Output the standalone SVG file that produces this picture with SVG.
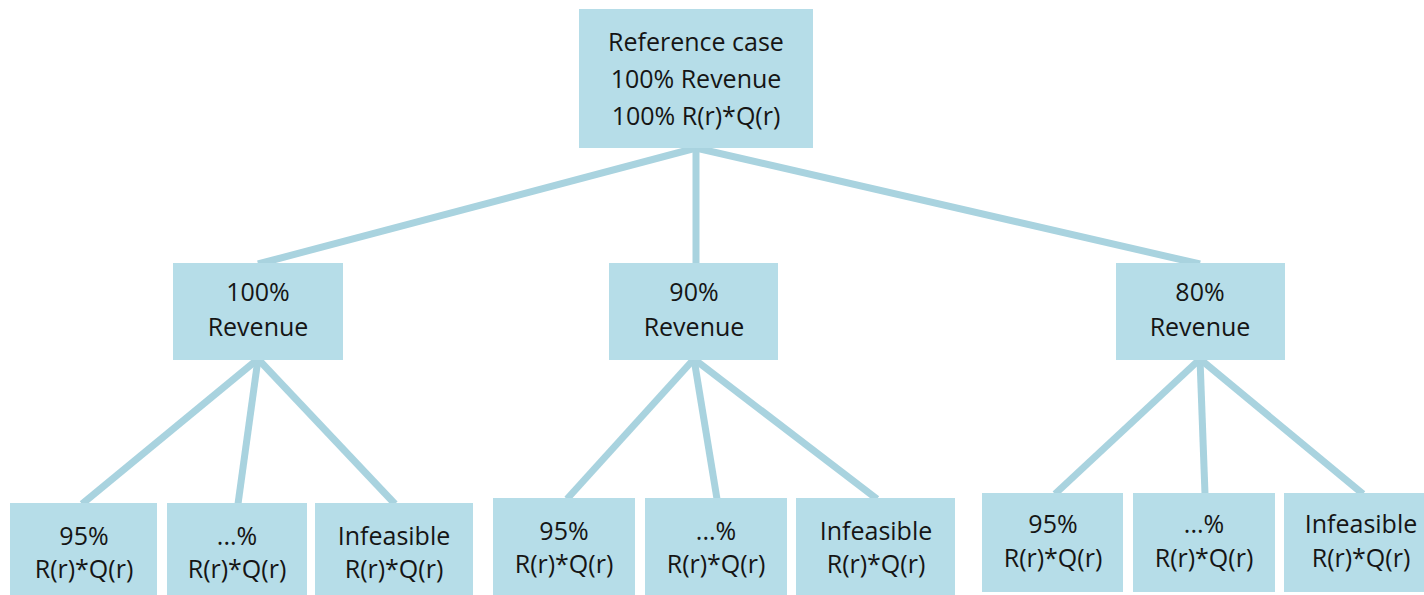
<svg xmlns="http://www.w3.org/2000/svg" width="1424" height="595" viewBox="0 0 1424 595">
<style>
.box{fill:#b6dde8;}
.lbl{font-family:"Open Sans","Liberation Sans",sans-serif;font-size:25px;fill:#151515;text-anchor:middle;}
.edge{stroke:#a9d3df;stroke-width:7;fill:none;stroke-linecap:butt;}
</style>
<rect width="1424" height="595" fill="#ffffff"/>
<g id="connectors">
<line class="edge" x1="696" y1="148" x2="258" y2="264"/>
<line class="edge" x1="696" y1="148" x2="696" y2="264"/>
<line class="edge" x1="696" y1="148" x2="1200" y2="264"/>
<line class="edge" x1="258" y1="359" x2="82" y2="504"/>
<line class="edge" x1="258" y1="359" x2="238" y2="504"/>
<line class="edge" x1="258" y1="359" x2="395" y2="504"/>
<line class="edge" x1="694" y1="359" x2="567" y2="499"/>
<line class="edge" x1="694" y1="359" x2="717" y2="499"/>
<line class="edge" x1="694" y1="359" x2="877" y2="499"/>
<line class="edge" x1="1200" y1="359" x2="1055" y2="494"/>
<line class="edge" x1="1200" y1="359" x2="1205" y2="494"/>
<line class="edge" x1="1200" y1="359" x2="1363" y2="494"/>
</g>
<g id="root">
<rect class="box" x="579" y="9" width="234" height="139"/>
<text class="lbl" x="696" y="51">Reference case</text>
<text class="lbl" x="696" y="88">100% Revenue</text>
<text class="lbl" x="696" y="125">100% R(r)*Q(r)</text>
</g>
<g id="mid100">
<rect class="box" x="173" y="263" width="170" height="97"/>
<text class="lbl" x="258" y="301">100%</text>
<text class="lbl" x="258" y="336">Revenue</text>
</g>
<g id="mid90">
<rect class="box" x="609" y="263" width="169" height="97"/>
<text class="lbl" x="694" y="301">90%</text>
<text class="lbl" x="694" y="336">Revenue</text>
</g>
<g id="mid80">
<rect class="box" x="1116" y="263" width="169" height="97"/>
<text class="lbl" x="1200" y="301">80%</text>
<text class="lbl" x="1200" y="336">Revenue</text>
</g>
<g id="g1a">
<rect class="box" x="10" y="503" width="147" height="100"/>
<text class="lbl" x="84" y="545">95%</text>
<text class="lbl" x="84" y="578">R(r)*Q(r)</text>
</g>
<g id="g1b">
<rect class="box" x="167" y="503" width="140" height="100"/>
<text class="lbl" x="237" y="545">...%</text>
<text class="lbl" x="237" y="578">R(r)*Q(r)</text>
</g>
<g id="g1c">
<rect class="box" x="315" y="503" width="158" height="100"/>
<text class="lbl" x="394" y="545">Infeasible</text>
<text class="lbl" x="394" y="578">R(r)*Q(r)</text>
</g>
<g id="g2a">
<rect class="box" x="493" y="498" width="142" height="100"/>
<text class="lbl" x="564" y="540">95%</text>
<text class="lbl" x="564" y="573">R(r)*Q(r)</text>
</g>
<g id="g2b">
<rect class="box" x="645" y="498" width="142" height="100"/>
<text class="lbl" x="716" y="540">...%</text>
<text class="lbl" x="716" y="573">R(r)*Q(r)</text>
</g>
<g id="g2c">
<rect class="box" x="796" y="498" width="159" height="100"/>
<text class="lbl" x="876" y="540">Infeasible</text>
<text class="lbl" x="876" y="573">R(r)*Q(r)</text>
</g>
<g id="g3a">
<rect class="box" x="982" y="493" width="141" height="99"/>
<text class="lbl" x="1053" y="533">95%</text>
<text class="lbl" x="1053" y="567">R(r)*Q(r)</text>
</g>
<g id="g3b">
<rect class="box" x="1133" y="493" width="142" height="99"/>
<text class="lbl" x="1204" y="533">...%</text>
<text class="lbl" x="1204" y="567">R(r)*Q(r)</text>
</g>
<g id="g3c">
<rect class="box" x="1284" y="493" width="154" height="99"/>
<text class="lbl" x="1361" y="533">Infeasible</text>
<text class="lbl" x="1361" y="567">R(r)*Q(r)</text>
</g>
</svg>
